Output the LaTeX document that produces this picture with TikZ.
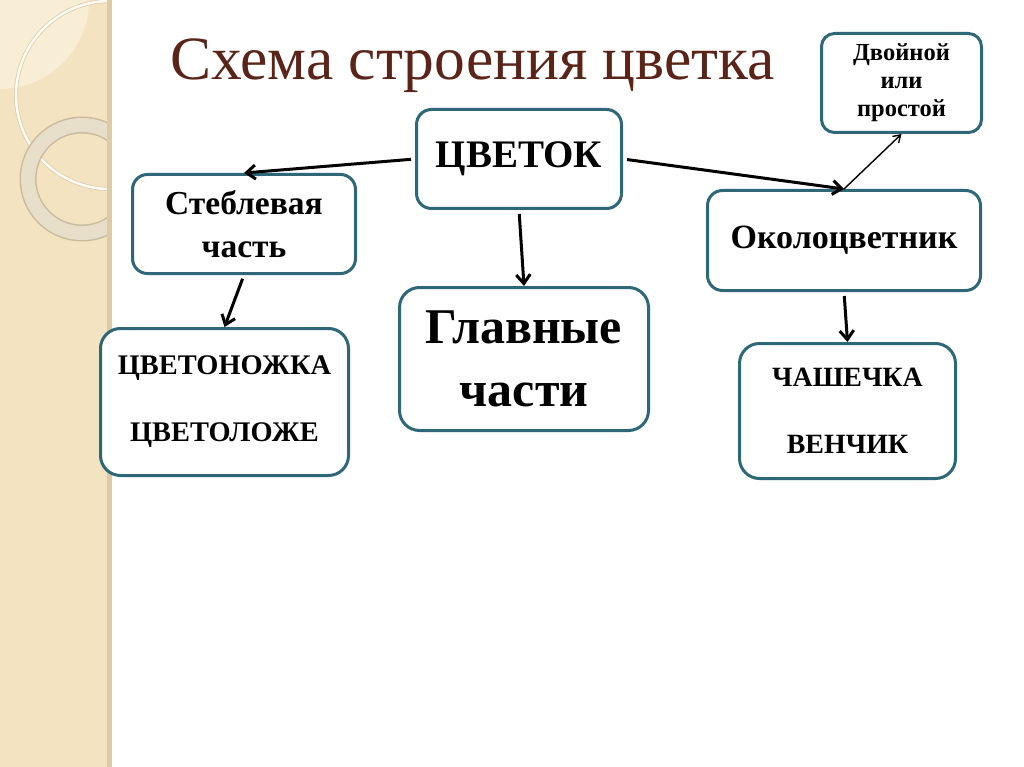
\documentclass[tikz,border=0pt]{standalone}
\usepackage{fontspec}
\setmainfont{Liberation Serif}
\usetikzlibrary{arrows.meta}
\definecolor{boxLine}{RGB}{46,104,120}
\definecolor{titleBrown}{RGB}{90,36,24}
\definecolor{stripFill}{RGB}{243,227,192}
\definecolor{stripEdge}{RGB}{220,203,165}
\definecolor{stripLight}{RGB}{248,238,214}
\newcommand{\pSize}[2]{\fontsize{#1}{#2}\selectfont}

\begin{document}
\begin{tikzpicture}[x=1pt,y=-1pt,
  cellbox/.style={draw=boxLine, line width=3pt, rounded corners=15pt, fill=white,
    align=center, inner sep=0pt},
  link/.style={line width=3pt, shorten <=4pt, -{Straight Barb[length=9pt,width=14pt]}},
  thinlink/.style={line width=1.4pt, -{Straight Barb[length=7pt,width=9pt]}}]
% background
\useasboundingbox (0,0) rectangle (1024,767);
\fill[white] (0,0) rectangle (1024,767);
\fill[stripFill] (0,0) rectangle (112,767);
\begin{scope}
\clip (0,0) rectangle (108,767);
\fill[stripLight] (0,0) circle (89);
\draw[color=stripEdge, line width=4pt] (110,95) circle (94);
\draw[color=white!85!stripFill, line width=2.5pt] (110,95) circle (94);
\draw[color=stripEdge!80!gray, line width=17pt] (82,179) circle (54);
\draw[color=white!70!gray!40!stripFill, line width=14pt] (82,179) circle (54);
\end{scope}
\fill[stripEdge] (107,0) rectangle (112,767);
% title
\node[anchor=base west, inner sep=0pt, text=titleBrown, font=\pSize{61.5}{70}] (title) at (170,80) {Схема строения цветка};
% boxes
\node[cellbox, minimum width=205pt, minimum height=99pt, font=\bfseries\pSize{39}{46}] (tsvetok) at (519,159) {ЦВЕТОК};
\node[cellbox, minimum width=160pt, minimum height=99pt, rounded corners=13pt, font=\bfseries\pSize{24.5}{28}] (dvoynoy) at (901.5,83) {Двойной\\или\\простой};
\node[cellbox, minimum width=223pt, minimum height=99pt, font=\bfseries\pSize{33.5}{43}] (stebel) at (244,224) {Стеблевая\\часть};
\node[cellbox, minimum width=273pt, minimum height=100pt, font=\bfseries\pSize{34}{40}] (okolo) at (844,240.5) {Околоцветник};
\node[cellbox, minimum width=248pt, minimum height=147pt, rounded corners=20pt, font=\bfseries\pSize{28.4}{67}] (nozhka) at (224.5,402) {ЦВЕТОНОЖКА\\ЦВЕТОЛОЖЕ};
\node[cellbox, minimum width=249pt, minimum height=143pt, rounded corners=20pt, font=\bfseries\pSize{50}{63}] (glavnye) at (524,359) {Главные\\части};
\node[cellbox, minimum width=216pt, minimum height=135pt, rounded corners=20pt, font=\bfseries\pSize{27.9}{67}] (chashka) at (847.5,411) {ЧАШЕЧКА\\ВЕНЧИК};
% arrows
\draw[link] (tsvetok.west) -- (stebel.north);
\draw[link] (tsvetok.east) -- (okolo.north);
\draw[link] (tsvetok.south) -- (glavnye.north);
\draw[link] (stebel.south) -- (nozhka.north);
\draw[link] (okolo.south) -- (chashka.north);
\draw[thinlink] (okolo.north) -- (dvoynoy.south);
\end{tikzpicture}
\end{document}
